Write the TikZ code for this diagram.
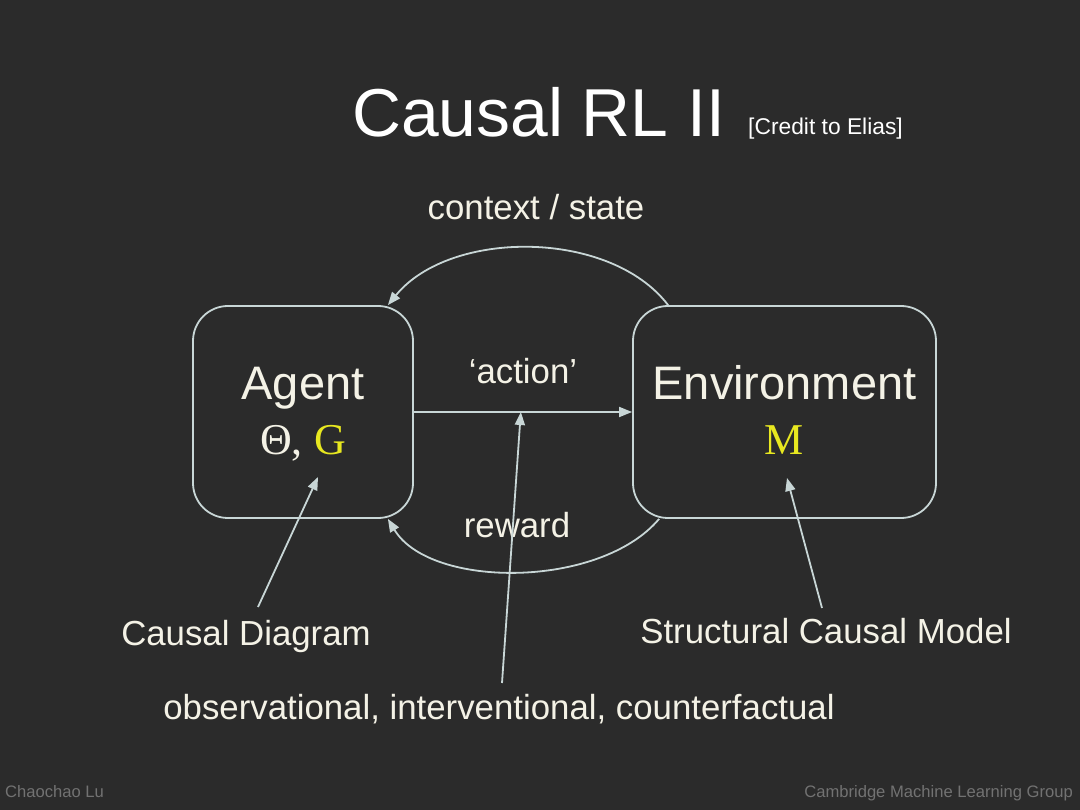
\documentclass[tikz,border=0pt]{standalone}
\usepackage{fontspec}
\setmainfont{Liberation Sans}
\newfontfamily\timesfam{Liberation Serif}
\usetikzlibrary{arrows.meta,calc}
\definecolor{bgc}{HTML}{2B2B2B}
\definecolor{linec}{HTML}{C8D6D6}
\definecolor{txtc}{HTML}{F4F2E6}
\definecolor{yel}{HTML}{E8E820}
\definecolor{footc}{HTML}{727272}
\tikzset{
  txt/.style={inner sep=0pt, anchor=base, text=txtc, font=\fontsize{34.8}{36}\selectfont},
  boxnode/.style={draw=linec, line width=1.8pt, rounded corners=35pt, inner sep=0pt},
  conn/.style={draw=linec, line width=1.8pt, -{Triangle[length=13pt,width=10pt]}},
  foot/.style={inner sep=0pt, anchor=base, text=footc, font=\fontsize{16.6}{18}\selectfont},
}
\begin{document}
\begin{tikzpicture}[x=1pt,y=-1pt]
\fill[bgc] (0,0) rectangle (1080,810);
\useasboundingbox (0,0) rectangle (1080,810);
% title
\node[inner sep=0pt, anchor=base west, text=white, font=\fontsize{67.8}{70}\selectfont] (title) at (352,137) {Causal RL II};
\node[inner sep=0pt, anchor=base west, text=white, font=\fontsize{22.8}{24}\selectfont] (credit) at (748,135) {[Credit to Elias]};
% boxes
\node[boxnode, minimum width=220pt, minimum height=212pt] (agent) at (303,412) {};
\node[boxnode, minimum width=303pt, minimum height=212pt] (env) at (784.5,412) {};
% box texts
\node[txt, font=\fontsize{47}{50}\selectfont] (agentlbl) at (303,400) {Agent};
\node[txt, font=\timesfam\fontsize{44}{46}\selectfont] (agentsym) at (303,455) {Θ, \textcolor{yel}{G}};
\node[txt, font=\fontsize{47}{50}\selectfont] (envlbl) at (784.5,400) {Environment};
\node[txt, font=\timesfam\fontsize{44}{46}\selectfont, text=yel] (envsym) at (784,455) {M};
% labels
\node[txt] (ctx) at (536,220) {context / state};
\node[txt] (act) at (523,384) {`action'};
\node[txt] (rew) at (517,537) {reward};
\node[txt] (cd) at (246,645) {Causal Diagram};
\node[txt] (scm) at (826,643) {Structural Causal Model};
\node[txt] (obs) at (499,719) {observational, interventional, counterfactual};
% footer
\node[foot, anchor=base west] (fl) at (5,797) {Chaochao Lu};
\node[foot, anchor=base east] (fr) at (1073,797) {Cambridge Machine Learning Group};
% connectors
\draw[conn] (agent.east) -- (env.west);
\coordinate (am) at ($(agent.east)!0.49!(env.west)$);
\draw[conn] ([xshift=36pt]env.north west) .. controls (610,229) and (450,229) .. ([xshift=-26pt]agent.north east);
\draw[conn] ([xshift=27pt]env.south west) .. controls (600,589) and (430,589) .. ([xshift=-26pt]agent.south east);
\coordinate (cdtail) at (258,607);
\coordinate (cdhead) at (318,477);
\draw[conn] (cdtail) -- (cdhead);
\coordinate (obstail) at (502,683);
\draw[conn] (obstail) -- (am);
\coordinate (scmtail) at (822,608);
\coordinate (scmhead) at (787,478);
\draw[conn] (scmtail) -- (scmhead);
\end{tikzpicture}
\end{document}
